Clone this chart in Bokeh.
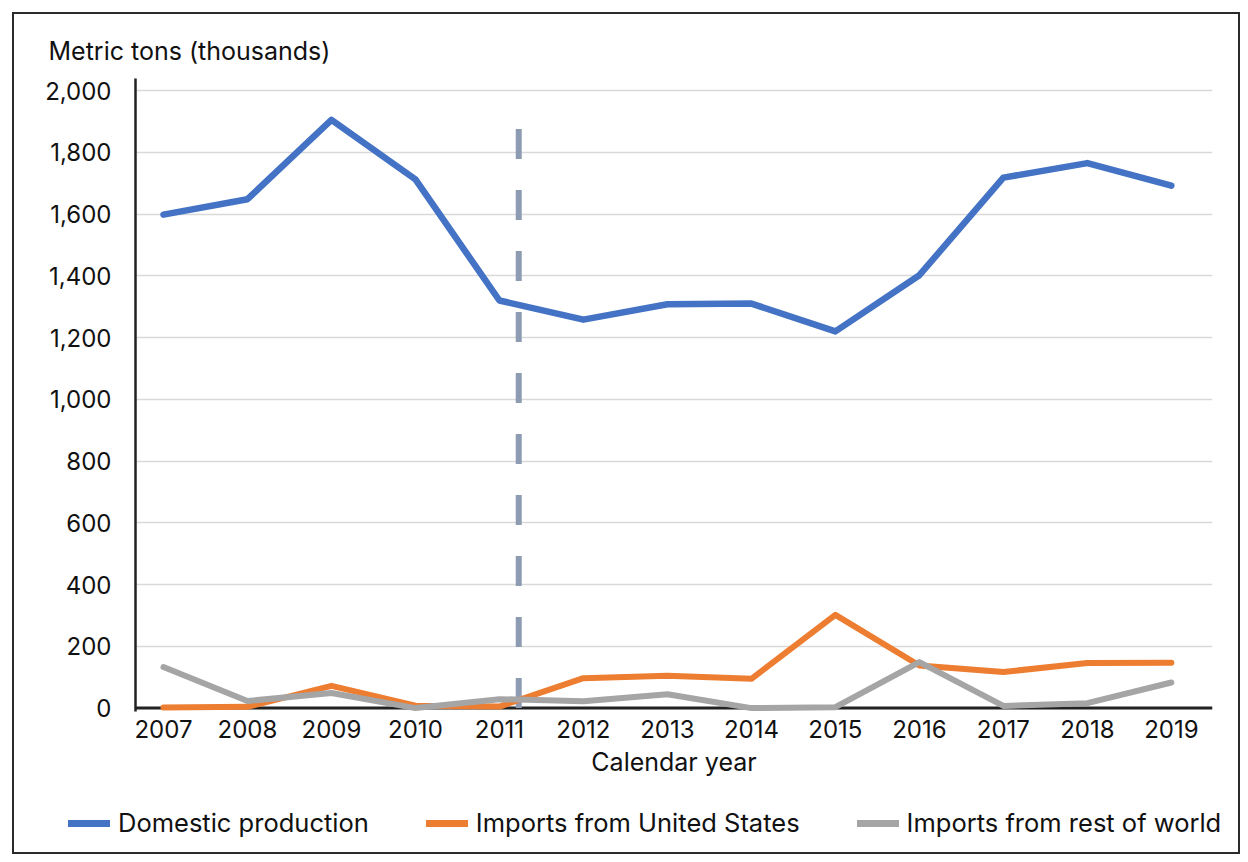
from bokeh.plotting import figure
from bokeh.models import (FixedTicker, NumeralTickFormatter, Span, Legend, LegendItem,
                          Range1d, ColumnDataSource)
from bokeh.embed import file_html
from bokeh.resources import INLINE

years = [2007, 2008, 2009, 2010, 2011, 2012, 2013, 2014, 2015, 2016, 2017, 2018, 2019]
domestic = [1598, 1648, 1905, 1712, 1320, 1258, 1308, 1310, 1220, 1402, 1718, 1765, 1692]
imports_us = [2, 4, 72, 8, 5, 97, 105, 95, 302, 138, 117, 146, 147]
imports_row = [133, 23, 49, 0, 29, 22, 45, 0, 3, 149, 7, 16, 83]
y_ticks = [0, 200, 400, 600, 800, 1000, 1200, 1400, 1600, 1800, 2000]
series_names = ["Domestic production", "Imports from United States", "Imports from rest of world"]
series_colors = ["#4472C4", "#ED7D31", "#A5A5A5"]
marker_year = [2011.23]
marker_top = [1878]

FONT = "Inter"
TXT = "#111111"
BORDER = "2px solid #2b2b2b"

p = figure(width=1228, height=776, output_backend="svg", toolbar_location=None,
           x_range=Range1d(2006.667, 2019.49), y_range=Range1d(-11, 2039),
           min_border_left=121, min_border_right=30, min_border_top=64, min_border_bottom=79,
           margin=(12, 0, 0, 12),
           styles={"border-top": BORDER, "border-left": BORDER, "border-right": BORDER})
p.outline_line_color = None
p.background_fill_color = "white"

p.title.text = "Metric tons (thousands)"
p.title.align = "left"
p.title.offset = -87
p.title.standoff = 26
p.title.text_font = FONT
p.title.text_font_size = "25px"
p.title.text_font_style = "normal"
p.title.text_color = TXT

# axes
p.xaxis.ticker = FixedTicker(ticks=years)
p.yaxis.ticker = FixedTicker(ticks=y_ticks)
p.yaxis.formatter = NumeralTickFormatter(format="0,0")
for ax in (p.xaxis[0], p.yaxis[0]):
    ax.major_tick_line_color = None
    ax.minor_tick_line_color = None
    ax.major_label_text_font = FONT
    ax.major_label_text_font_size = "24px"
    ax.major_label_text_color = TXT
p.yaxis.axis_line_color = "#222222"
p.yaxis.axis_line_width = 2.5
p.yaxis.major_label_standoff = 18
p.xaxis.axis_line_color = None
p.xaxis.major_label_standoff = 2
p.xaxis.axis_label = "Calendar year"
p.xaxis.axis_label_text_font = FONT
p.xaxis.axis_label_text_font_size = "25px"
p.xaxis.axis_label_text_font_style = "normal"
p.xaxis.axis_label_text_color = TXT
p.xaxis.axis_label_standoff = 6

p.xgrid.grid_line_color = None
p.ygrid.grid_line_color = "#D9D9D9"
p.ygrid.grid_line_width = 1.5

# zero baseline
p.add_layout(Span(location=0, dimension="width", line_color="#222222", line_width=3,
                  level="underlay"))

# dashed marker
src_m = ColumnDataSource(dict(x=marker_year, y0=[0], y1=marker_top))
p.segment(x0="x", y0="y0", x1="x", y1="y1", source=src_m, line_color="#8D9CB3",
          line_width=6, line_dash="30 31")

for vals, col, w in zip([domestic, imports_us, imports_row], series_colors, [6.5, 6, 6]):
    p.line(years, vals, line_color=col, line_width=w, line_join="round", line_cap="round")

# legend strip (separate root so the legend can extend past the plot frame)
lf = figure(width=1228, height=66, output_backend="svg", toolbar_location=None,
            x_range=Range1d(0, 1), y_range=Range1d(0, 1),
            min_border=0, x_axis_type=None, y_axis_type=None,
            margin=(0, 0, 0, 12),
            styles={"border-bottom": BORDER, "border-left": BORDER, "border-right": BORDER})
lf.outline_line_color = None
lf.xgrid.grid_line_color = None
lf.ygrid.grid_line_color = None
items = []
for name, col in zip(series_names, series_colors):
    r = lf.line(x=[float("nan")], y=[float("nan")], line_color=col, line_width=7,
                line_cap="round")
    items.append(LegendItem(label=name, renderers=[r]))
legend = Legend(items=items, orientation="horizontal", location=(54, 16),
                glyph_width=42, glyph_height=20, label_standoff=8, spacing=57,
                padding=0, margin=0,
                label_text_font=FONT, label_text_font_size="25.5px", label_text_color=TXT,
                border_line_color=None, background_fill_alpha=0)
lf.add_layout(legend, "center")

open("out.html", "w").write(file_html([p, lf], INLINE))
